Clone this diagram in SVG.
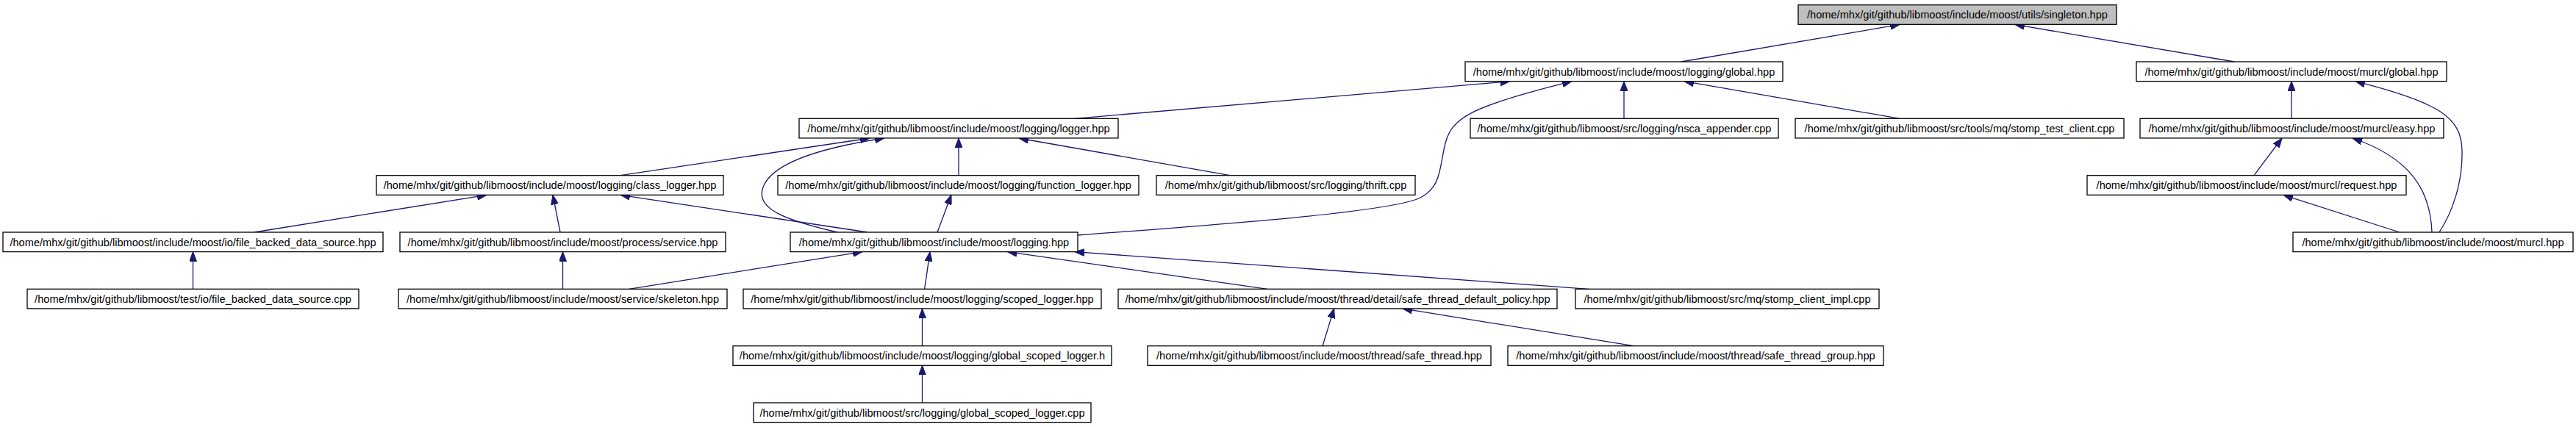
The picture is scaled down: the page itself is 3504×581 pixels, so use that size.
<svg xmlns="http://www.w3.org/2000/svg" width="3504" height="581" viewBox="0 0 3504 581">
<style>
rect.n{fill:#ffffff;stroke:#000000;stroke-width:1.3}
rect.root{fill:#bfbfbf;stroke:#000000;stroke-width:1.3}
text{font-family:"Liberation Sans",Arial,Helvetica,sans-serif;font-size:14.6px;fill:#000000;text-anchor:middle}
.e{fill:none;stroke:#191970;stroke-width:1.3;marker-end:url(#arr)}
</style>
<defs>
<marker id="arr" viewBox="0 0 13 10" refX="13" refY="5" markerWidth="13" markerHeight="10" markerUnits="userSpaceOnUse" orient="auto">
<path d="M0,0 L13,5 L0,10 z" fill="#191970" stroke="#191970" stroke-width="1"/>
</marker>
</defs>
<rect width="3504" height="581" fill="#ffffff"/>
<g id="connectors">
<path class="e" d="M2287,84 L2584,33.4"/>
<path class="e" d="M3039,84 L2741,33.4"/>
<path class="e" d="M1462,161.3 L2054,110.7"/>
<path class="e" d="M1466,320 C1650,306 1880,290 1930,270 C1962,255 1958,225 1966,195 C1975,160 2000,145 2138,110.7"/>
<path class="e" d="M2209,161.3 L2209,110.7"/>
<path class="e" d="M2584,161.3 L2291,110.7"/>
<path class="e" d="M3117,161.3 L3117,110.7"/>
<path class="e" d="M3318,316 C3335,290 3350,250 3349,205 C3348,160 3320,140 3204,110.7"/>
<path class="e" d="M3066,238.7 L3104,188"/>
<path class="e" d="M3308,316 C3306,260 3280,215 3200,188"/>
<path class="e" d="M3264,316 L3106,265.3"/>
<path class="e" d="M844,238.7 L1183,188"/>
<path class="e" d="M1304,238.7 L1304,188"/>
<path class="e" d="M1673,238.7 L1386,188"/>
<path class="e" d="M1139,316 C1070,300 1030,285 1037,258 C1044,230 1090,205 1203,188"/>
<path class="e" d="M346,316 L662,265.3"/>
<path class="e" d="M762,316 L752,265.3"/>
<path class="e" d="M1180,316 L844,265.3"/>
<path class="e" d="M262.5,393.3 L262.5,342.6"/>
<path class="e" d="M765.5,393.3 L765.5,342.6"/>
<path class="e" d="M1275,316 L1294,265.3"/>
<path class="e" d="M855.5,393.3 L1173,342.6"/>
<path class="e" d="M1257.6,393.3 L1265,342.6"/>
<path class="e" d="M1724,393.3 L1370.5,342.6"/>
<path class="e" d="M2161,393.3 L1462,342.6"/>
<path class="e" d="M1254.5,470.7 L1254.5,419.9"/>
<path class="e" d="M1254.5,548 L1254.5,497.3"/>
<path class="e" d="M1799,470.7 L1814.6,419.9"/>
<path class="e" d="M2222,470.7 L1908,419.9"/>
</g>
<g id="n0"><rect class="root" x="2446" y="6.7" width="433" height="26.6"/><text x="2662.5" y="25.2">/home/mhx/git/github/libmoost/include/moost/utils/singleton.hpp</text></g>
<g id="n1"><rect class="n" x="1993" y="84" width="432" height="26.6"/><text x="2209" y="102.5">/home/mhx/git/github/libmoost/include/moost/logging/global.hpp</text></g>
<g id="n2"><rect class="n" x="2906" y="84" width="422" height="26.6"/><text x="3117" y="102.5">/home/mhx/git/github/libmoost/include/moost/murcl/global.hpp</text></g>
<g id="n3"><rect class="n" x="1087" y="161.3" width="434" height="26.6"/><text x="1304" y="179.8">/home/mhx/git/github/libmoost/include/moost/logging/logger.hpp</text></g>
<g id="n4"><rect class="n" x="2000" y="161.3" width="419" height="26.6"/><text x="2209.5" y="179.8">/home/mhx/git/github/libmoost/src/logging/nsca_appender.cpp</text></g>
<g id="n5"><rect class="n" x="2442" y="161.3" width="447" height="26.6"/><text x="2665.5" y="179.8">/home/mhx/git/github/libmoost/src/tools/mq/stomp_test_client.cpp</text></g>
<g id="n6"><rect class="n" x="2911" y="161.3" width="413" height="26.6"/><text x="3117.5" y="179.8">/home/mhx/git/github/libmoost/include/moost/murcl/easy.hpp</text></g>
<g id="n7"><rect class="n" x="512" y="238.7" width="472" height="26.6"/><text x="748" y="257.2">/home/mhx/git/github/libmoost/include/moost/logging/class_logger.hpp</text></g>
<g id="n8"><rect class="n" x="1058" y="238.7" width="491" height="26.6"/><text x="1303.5" y="257.2">/home/mhx/git/github/libmoost/include/moost/logging/function_logger.hpp</text></g>
<g id="n9"><rect class="n" x="1573" y="238.7" width="352" height="26.6"/><text x="1749" y="257.2">/home/mhx/git/github/libmoost/src/logging/thrift.cpp</text></g>
<g id="n10"><rect class="n" x="2839" y="238.7" width="434" height="26.6"/><text x="3056" y="257.2">/home/mhx/git/github/libmoost/include/moost/murcl/request.hpp</text></g>
<g id="n11"><rect class="n" x="4" y="316" width="517" height="26.6"/><text x="262.5" y="334.5">/home/mhx/git/github/libmoost/include/moost/io/file_backed_data_source.hpp</text></g>
<g id="n12"><rect class="n" x="544" y="316" width="443" height="26.6"/><text x="765.5" y="334.5">/home/mhx/git/github/libmoost/include/moost/process/service.hpp</text></g>
<g id="n13"><rect class="n" x="1075" y="316" width="391" height="26.6"/><text x="1270.5" y="334.5">/home/mhx/git/github/libmoost/include/moost/logging.hpp</text></g>
<g id="n14"><rect class="n" x="3119" y="316" width="381" height="26.6"/><text x="3309.5" y="334.5">/home/mhx/git/github/libmoost/include/moost/murcl.hpp</text></g>
<g id="n15"><rect class="n" x="37" y="393.3" width="451" height="26.6"/><text x="262.5" y="411.8">/home/mhx/git/github/libmoost/test/io/file_backed_data_source.cpp</text></g>
<g id="n16"><rect class="n" x="542" y="393.3" width="447" height="26.6"/><text x="765.5" y="411.8">/home/mhx/git/github/libmoost/include/moost/service/skeleton.hpp</text></g>
<g id="n17"><rect class="n" x="1011" y="393.3" width="487" height="26.6"/><text x="1254.5" y="411.8">/home/mhx/git/github/libmoost/include/moost/logging/scoped_logger.hpp</text></g>
<g id="n18"><rect class="n" x="1521" y="393.3" width="597" height="26.6"/><text x="1819.5" y="411.8">/home/mhx/git/github/libmoost/include/moost/thread/detail/safe_thread_default_policy.hpp</text></g>
<g id="n19"><rect class="n" x="2143" y="393.3" width="413" height="26.6"/><text x="2349.5" y="411.8">/home/mhx/git/github/libmoost/src/mq/stomp_client_impl.cpp</text></g>
<g id="n20"><rect class="n" x="997" y="470.7" width="515" height="26.6"/><text x="1254.5" y="489.2">/home/mhx/git/github/libmoost/include/moost/logging/global_scoped_logger.h</text></g>
<g id="n21"><rect class="n" x="1561" y="470.7" width="467" height="26.6"/><text x="1794.5" y="489.2">/home/mhx/git/github/libmoost/include/moost/thread/safe_thread.hpp</text></g>
<g id="n22"><rect class="n" x="2051" y="470.7" width="511" height="26.6"/><text x="2306.5" y="489.2">/home/mhx/git/github/libmoost/include/moost/thread/safe_thread_group.hpp</text></g>
<g id="n23"><rect class="n" x="1025" y="548" width="459" height="26.6"/><text x="1254.5" y="566.5">/home/mhx/git/github/libmoost/src/logging/global_scoped_logger.cpp</text></g>
</svg>
